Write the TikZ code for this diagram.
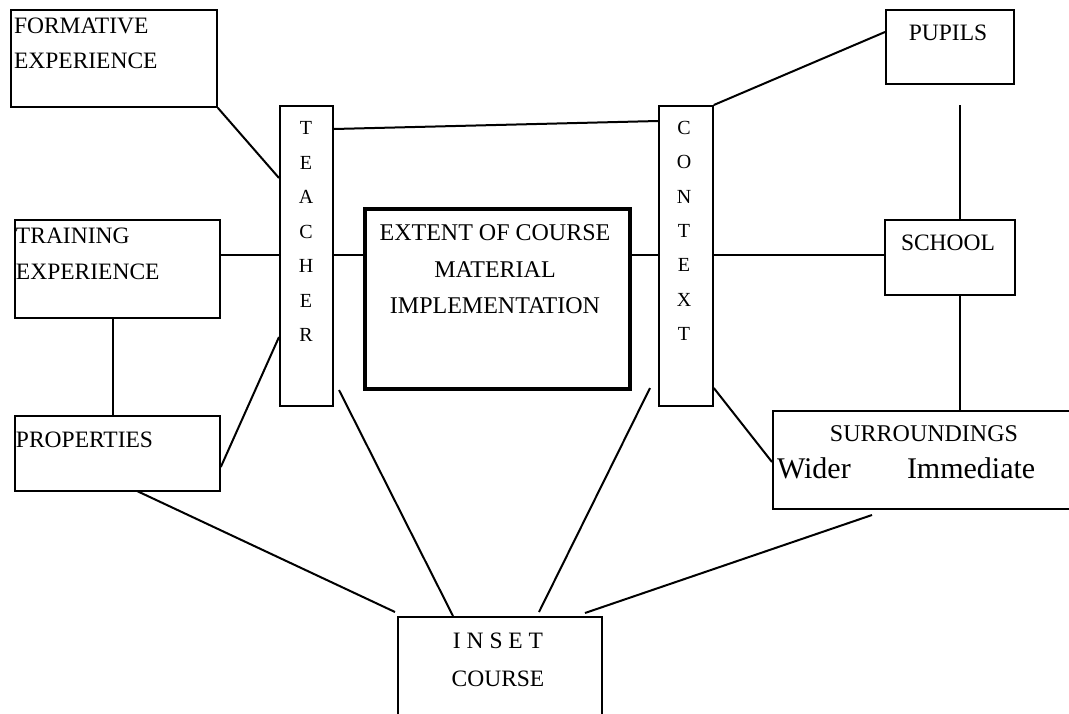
\documentclass[tikz,border=0pt]{standalone}
\usepackage{fontspec}
\setmainfont{Liberation Serif}
\usetikzlibrary{positioning}
\tikzset{
  box/.style={draw, rectangle, anchor=north west, inner sep=0pt, line width=1.8pt},
  txt/.style={inner sep=0pt, font=\fontsize{23.5}{28}\selectfont},
  letter/.style={inner sep=0pt, font=\fontsize{20}{24}\selectfont},
}
\begin{document}
\begin{tikzpicture}[x=1pt, y=-1pt, line width=2pt]
    \useasboundingbox (0,0) rectangle (1069,713);
    % boxes
    \node [box, minimum width=206pt, minimum height=97pt] (FE) at (10,9) {};
    \node [box, minimum width=205pt, minimum height=98pt] (TE) at (14,219) {};
    \node [box, minimum width=205pt, minimum height=75pt] (P) at (14,415) {};
    \node [box, minimum width=53pt, minimum height=300pt] (T) at (279,105) {};
    \node [box, line width=3.8pt, minimum width=265pt, minimum height=180pt] (EX) at (363,207) {};
    \node [box, minimum width=54pt, minimum height=300pt] (C) at (658,105) {};
    \node [box, minimum width=128pt, minimum height=74pt] (PU) at (885,9) {};
    \node [box, minimum width=130pt, minimum height=75pt] (S) at (884,219) {};
    \node [box, minimum width=310pt, minimum height=98pt] (SU) at (772,410) {};
    \node [box, minimum width=204pt, minimum height=110pt] (IN) at (397,616) {};
    % texts
    \node [txt, anchor=base west] (FE1) at (13,33) {FORMATIVE};
    \node [txt, anchor=base west] (FE2) at (13,68) {EXPERIENCE};
    \node [txt, anchor=base west] (TE1) at (15,243) {TRAINING};
    \node [txt, anchor=base west] (TE2) at (15,279) {EXPERIENCE};
    \node [txt, anchor=base west] (P1) at (15,447) {PROPERTIES};
    \node [txt, font=\fontsize{24}{28}\selectfont, anchor=base] (EX1) at (495,240) {EXTENT OF COURSE};
    \node [txt, font=\fontsize{24}{28}\selectfont, anchor=base] (EX2) at (495,277) {MATERIAL};
    \node [txt, font=\fontsize{24}{28}\selectfont, anchor=base] (EX3) at (495,313) {IMPLEMENTATION};
    \node [txt, anchor=base] (PU1) at (948,40) {PUPILS};
    \node [txt, anchor=base] (S1) at (948,250) {SCHOOL};
    \node [txt, font=\fontsize{24}{28}\selectfont, anchor=base] (SU1) at (924,441) {SURROUNDINGS};
    \node [txt, font=\fontsize{30}{34}\selectfont, anchor=base west] (SU2) at (776,478) {Wider};
    \node [txt, font=\fontsize{30}{34}\selectfont, anchor=base west] (SU3) at (906,478) {Immediate};
    \node [txt, anchor=base] (IN1) at (498,648) {I N S E T};
    \node [txt, anchor=base] (IN2) at (498,686) {COURSE};
    \foreach \l [count=\i] in {T,E,A,C,H,E,R}
        \node [letter] (TL\i) at (306,128+34.5*\i-34.5) {\l};
    \foreach \l [count=\i] in {C,O,N,T,E,X,T}
        \node [letter] (CL\i) at (684,128+34.3*\i-34.3) {\l};
    % free ends
    \coordinate (PUs) at (960,105);
    \coordinate (Pb) at (137,491);
    \coordinate (Tb) at (339,390);
    \coordinate (Cb) at (650,388);
    \coordinate (SUb) at (872,515);
    % connectors
    \path [-] (FE.south east) edge (T.west |- 0,178);
    \path [-] (TE.east |- 0,255) edge (T.west |- 0,255);
    \path [-] (P.east |- 0,467) edge (T.west |- 0,337);
    \path [-] (TE.south -| 113,0) edge (P.north -| 113,0);
    \path [-] (T.east |- 0,129) edge (C.west |- 0,121);
    \path [-] (T.east |- 0,255) edge (EX.west |- 0,255);
    \path [-] (EX.east |- 0,255) edge (C.west |- 0,255);
    \path [-] (C.east |- 0,255) edge (S.west |- 0,255);
    \path [-] (C.north east) edge (PU.west |- 0,32);
    \path [-] (PUs) edge (S.north -| PUs);
    \path [-] (S.south -| PUs) edge (SU.north -| PUs);
    \path [-] (C.east |- 0,388) edge (SU.west |- 0,462);
    \path [-] (Tb) edge (IN.north -| 453,0);
    \path [-] (Cb) edge (539,612);
    \path [-] (Pb) edge (395,612);
    \path [-] (SUb) edge (585,613);
\end{tikzpicture}
\end{document}
